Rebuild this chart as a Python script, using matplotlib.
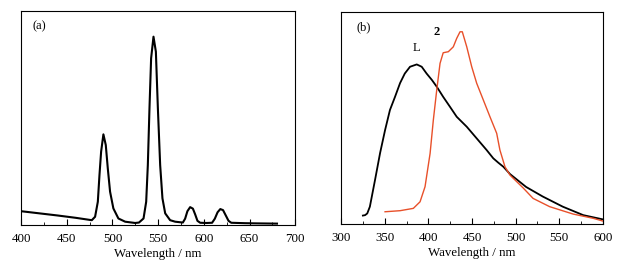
import matplotlib.pyplot as plt
from matplotlib.ticker import MultipleLocator

plt.rcParams['font.family'] = ['Liberation Serif', 'DejaVu Serif']

# (a) emission spectrum
wl_a = [400, 420, 440, 460, 477.4, 481, 484, 485.8, 487.6, 490.1, 492.7, 494.9, 497.4, 501, 506.5, 513.9,
        524.8, 529, 534, 536.9, 538.7, 540.5, 542.3, 544.9, 547.5, 549.7, 552.2, 554.7, 557.7, 563.1, 568.6,
        577, 579.5, 582, 585, 588, 590.5, 593, 596, 603,
        609, 612, 615, 618, 621, 624, 627, 630, 645, 660, 680]
int_a = [0.065, 0.055, 0.045, 0.034, 0.023, 0.039, 0.109, 0.234, 0.343, 0.424, 0.374, 0.265, 0.156, 0.078, 0.031, 0.016,
         0.01, 0.012, 0.031, 0.109, 0.28, 0.545, 0.779, 0.88, 0.81, 0.545, 0.28, 0.125, 0.055, 0.023, 0.016,
         0.012, 0.03, 0.065, 0.084, 0.077, 0.05, 0.02, 0.011, 0.01,
         0.011, 0.03, 0.06, 0.075, 0.07, 0.045, 0.02, 0.011, 0.009, 0.008, 0.007]

# (b) ligand L
wl_L = [325, 327.5, 330, 333, 339, 344.7, 350.4, 356, 361.8, 367.6, 373, 379, 386.7, 392.4, 398, 404,
        409.6, 417, 424.8, 432.5, 444, 455.4, 466.8, 474.4, 480, 486, 493.5, 512, 531, 554, 577.5, 600]
int_L = [0.04, 0.042, 0.05, 0.082, 0.21, 0.335, 0.443, 0.538, 0.60, 0.665, 0.71, 0.742, 0.753, 0.742, 0.71, 0.68,
         0.648, 0.60, 0.553, 0.506, 0.459, 0.404, 0.349, 0.31, 0.29, 0.27, 0.236, 0.175, 0.13, 0.082, 0.042, 0.022]

# (b) complex 2
wl_2 = [350.4, 367.6, 382.8, 390.5, 396.2, 402, 405.7, 409.6, 413.4, 417, 422.9, 428.6, 432.5, 436.3, 438.9,
        444, 449.7, 455.4, 463, 470.6, 478.3, 482, 487.8, 493.5, 508.7, 520, 539, 566, 589, 600]
int_2 = [0.058, 0.063, 0.074, 0.105, 0.176, 0.333, 0.49, 0.632, 0.758, 0.808, 0.813, 0.836, 0.876, 0.907, 0.907,
         0.836, 0.742, 0.664, 0.585, 0.506, 0.428, 0.349, 0.27, 0.231, 0.17, 0.121, 0.082, 0.047, 0.027, 0.014]

red = '#e8502a'

fig = plt.figure(figsize=(6.19, 2.68), dpi=100)
ax1 = fig.add_axes([0.034, 0.160, 0.443, 0.799])
ax2 = fig.add_axes([0.551, 0.164, 0.423, 0.791])

ax1.plot(wl_a, int_a, color='black', lw=1.5)
ax1.set_xlim(400, 700)
ax1.text(0.04, 0.93, '(a)', transform=ax1.transAxes, fontsize=9, va='center')

ax2.plot(wl_L, int_L, color='black', lw=1.3)
ax2.plot(wl_2, int_2, color=red, lw=1.0)
ax2.set_xlim(300, 600)
ax2.text(0.06, 0.93, '(b)', transform=ax2.transAxes, fontsize=9, va='center')
ax2.text(386, 0.83, 'L', fontsize=9, ha='center', va='center')
ax2.text(410, 0.905, '2', fontsize=9, ha='center', va='center', fontweight='bold')

for ax in (ax1, ax2):
    ax.set_ylim(0, 1)
    ax.set_yticks([])
    ax.xaxis.set_major_locator(MultipleLocator(50))
    ax.xaxis.set_minor_locator(MultipleLocator(25))
    ax.tick_params(axis='x', which='major', direction='in', length=4, labelsize=9.3, pad=6)
    ax.tick_params(axis='x', which='minor', direction='in', length=2)
    ax.set_xlabel('Wavelength / nm', fontsize=9.3, labelpad=2)
    for s in ax.spines.values():
        s.set_linewidth(0.8)

fig.savefig('out.png', dpi=100)
